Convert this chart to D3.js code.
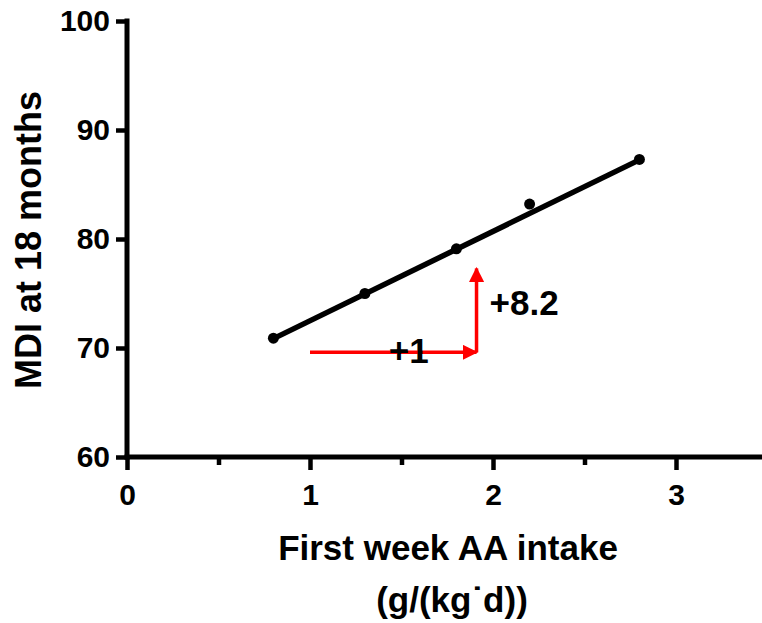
<!DOCTYPE html>
<html>
<head>
<meta charset="utf-8">
<script src="https://cdn.jsdelivr.net/npm/d3@7"></script>
<style>
html,body{margin:0;padding:0;background:#fff;}
svg{display:block;}
text{font-family:"Liberation Sans",Arial,sans-serif;font-weight:bold;}
</style>
</head>
<body>
<script>
// Data
const intake = [0.8, 1.3, 1.8, 2.2, 2.8];
const mdi = [70.9, 75.0, 79.1, 83.2, 87.3];
const fitSlope = 8.2;
const fitIntercept = 64.3;
const xTicks = [0, 1, 2, 3];
const xMinorTicks = [0.5, 1.5, 2.5];
const yTicks = [60, 70, 80, 90, 100];
const arrowH = [[1.0, 69.6], [1.91, 69.6]];
const arrowV = [[1.91, 69.6], [1.91, 77.3]];
const labels = [{text: "+1", x: 1.54, y: 68.6}, {text: "+8.2", x: 2.17, y: 73.0}];

const W = 762, H = 623;
const svg = d3.select("body").append("svg").attr("width", W).attr("height", H);

const x = d3.scaleLinear().domain([0, 3.5]).range([127, 127 + 3.5 * 183]);
const y = d3.scaleLinear().domain([60, 100]).range([457, 21]);

const defs = svg.append("defs");
defs.append("marker").attr("id", "ah").attr("viewBox", "0 0 10 10")
  .attr("refX", 9).attr("refY", 5).attr("markerWidth", 15).attr("markerHeight", 15)
  .attr("markerUnits", "userSpaceOnUse").attr("orient", "auto")
  .append("path").attr("d", "M0,0 L10,5 L0,10 Z").attr("fill", "#ff0000");

// Y axis
const yAxis = svg.append("g").attr("transform", `translate(${x(0)},0)`)
  .call(d3.axisLeft(y).tickValues(yTicks).tickFormat(d3.format("d")).tickSize(11).tickPadding(6).tickSizeOuter(0));
yAxis.select(".domain").attr("stroke-width", 5).attr("stroke", "#000")
  .attr("d", `M0,${y(100) - 2.5}V${y(60) + 2.5}`);
yAxis.selectAll(".tick line").attr("stroke-width", 4.5).attr("stroke", "#000");
yAxis.selectAll(".tick text").attr("font-size", 30).attr("fill", "#000");

// X axis
const xAxis = svg.append("g").attr("transform", `translate(0,${y(60)})`)
  .call(d3.axisBottom(x).tickValues(xTicks).tickFormat(d3.format("d")).tickSize(13).tickPadding(14).tickSizeOuter(0));
xAxis.select(".domain").attr("stroke-width", 5).attr("stroke", "#000")
  .attr("d", `M${x(0) - 2.5},0H${W + 10}`);
xAxis.selectAll(".tick line").attr("stroke-width", 4.5).attr("stroke", "#000");
xAxis.selectAll(".tick text").attr("font-size", 30).attr("fill", "#000");
const xMinor = svg.append("g").attr("transform", `translate(0,${y(60)})`)
  .call(d3.axisBottom(x).tickValues(xMinorTicks).tickSize(8).tickFormat(""));
xMinor.select(".domain").remove();
xMinor.selectAll(".tick line").attr("stroke-width", 4.5).attr("stroke", "#000");

// Fit line
const xExt = d3.extent(intake);
const line = d3.line().x(d => x(d[0])).y(d => y(d[1]));
svg.append("path")
  .attr("d", line(xExt.map(v => [v, fitIntercept + fitSlope * v])))
  .attr("stroke", "#000").attr("stroke-width", 5.5).attr("fill", "none");

// Points
svg.selectAll("circle.pt").data(intake.map((v, i) => [v, mdi[i]])).enter()
  .append("circle").attr("class", "pt")
  .attr("cx", d => x(d[0])).attr("cy", d => y(d[1])).attr("r", 5.5).attr("fill", "#000");

// Red arrows
[arrowH, arrowV].forEach(a => {
  svg.append("path").attr("d", line(a)).attr("stroke", "#ff0000")
    .attr("stroke-width", 3.5).attr("fill", "none").attr("marker-end", "url(#ah)");
});

// Labels
svg.selectAll("text.lab").data(labels).enter().append("text").attr("class", "lab")
  .attr("x", d => x(d.x)).attr("y", d => y(d.y)).attr("text-anchor", "middle")
  .attr("font-size", 35).attr("fill", "#000").text(d => d.text);

// Axis titles
svg.append("text").attr("x", 448).attr("y", 560).attr("text-anchor", "middle")
  .attr("font-size", 35).text("First week AA intake");
svg.append("text").attr("x", 452).attr("y", 612).attr("text-anchor", "middle")
  .attr("font-size", 35).text("(g/(kg\u02D9d))");
svg.append("text").attr("transform", "translate(41,240) rotate(-90)")
  .attr("text-anchor", "middle").attr("font-size", 36).text("MDI at 18 months");
</script>
</body>
</html>
